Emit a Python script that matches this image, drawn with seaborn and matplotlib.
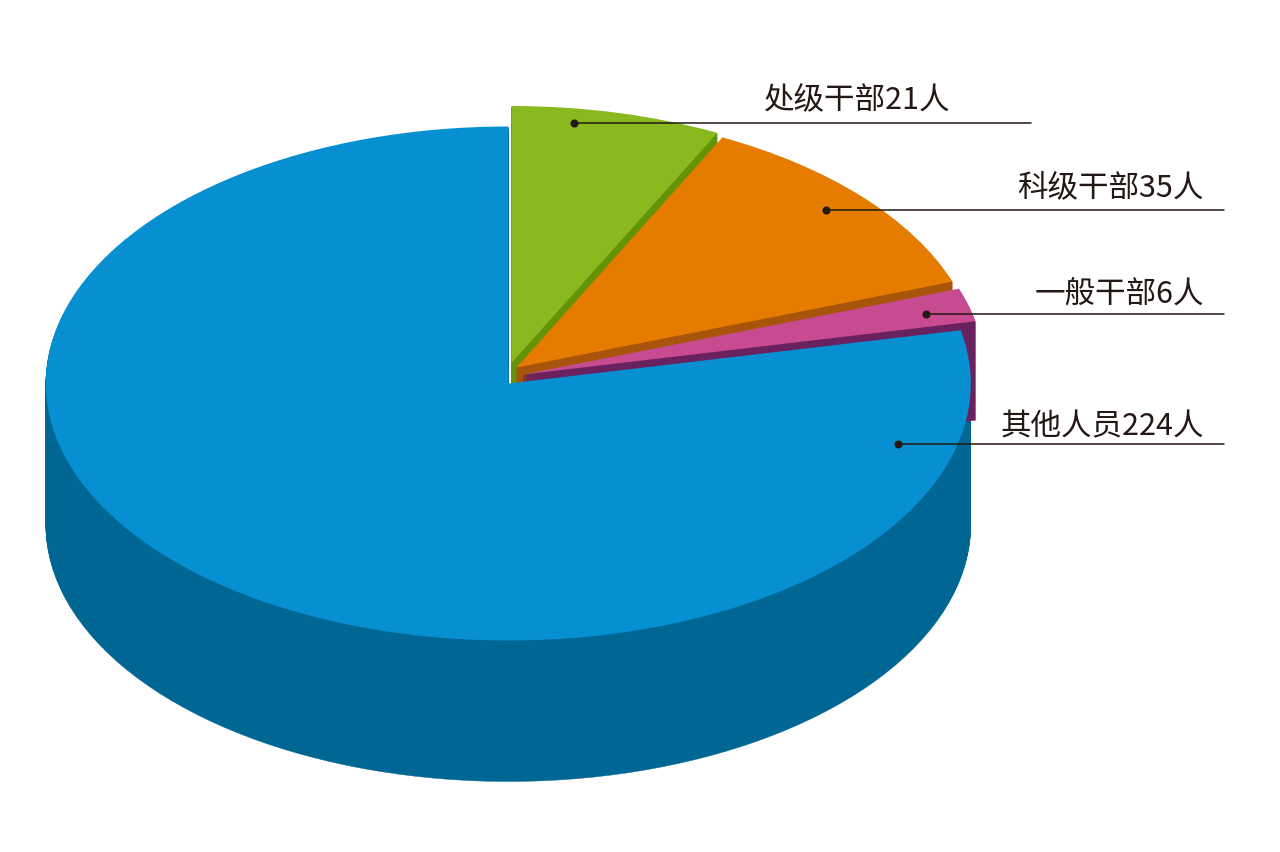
#!/usr/bin/env python3
"""Exploded pseudo-3D pie of staff counts, drawn from one flat pie squashed into an ellipse."""

import matplotlib
matplotlib.use("Agg")
import matplotlib.pyplot as plt
import pandas as pd
import seaborn as sns
from matplotlib.patches import PathPatch
from matplotlib.transforms import Affine2D

CATEGORIES = ["处级干部", "科级干部", "一般干部", "其他人员"]
COUNTS = [21, 35, 6, 224]

TOP_COLORS = ["#8ab81f", "#e57c00", "#c84a90", "#0690d2"]
SIDE_COLORS = ["#649209", "#a8550b", "#6a2160", "#006694"]
INK = "#231815"

# Pixel layout of the reference (the axes run in image pixels)
RX, RY = 462.5, 257
CENTERS = [(511.5, 364), (516.5, 368.5), (523, 375.5), (508.3, 384.5)]
DEPTHS = [30, 25, 99, 141]
DOTS_X = [574, 826, 926, 898]
DOTS_Y = [124, 211, 315, 445]
LINE_END_X = [1031, 1224, 1224, 1224]
LABEL_RIGHT_X = [950, 1204, 1204, 1204]
LABEL_Y = [100, 188, 295, 427]

sns.set_theme(style="white")
plt.rcParams["font.family"] = ["Noto Sans CJK SC", "DejaVu Sans"]

fig, ax = plt.subplots(figsize=(12.8, 8.53), dpi=100)
fig.subplots_adjust(0, 0, 1, 1)
wedges, _ = ax.pie(COUNTS, startangle=90, counterclock=False, colors=TOP_COLORS)


def squash(cx, cy):
    return Affine2D().scale(RX, -RY).translate(cx, cy) + ax.transData


def extrude(wedge, cx, cy, depth, color, zorder):
    # the side wall is the slice outline repeated downwards, one pixel per copy
    for step in range(depth, 0, -1):
        ax.add_patch(PathPatch(wedge.get_path(), facecolor=color, edgecolor=color, lw=0.3,
                               transform=squash(cx, cy + step), zorder=zorder))


# The big slice wall goes first and its top goes last, it hides the others' walls
extrude(wedges[3], *CENTERS[3], DEPTHS[3], SIDE_COLORS[3], 1)
for i in range(3):
    z = 2 + i * 2
    extrude(wedges[i], *CENTERS[i], DEPTHS[i], SIDE_COLORS[i], z)
    wedges[i].set_transform(squash(*CENTERS[i]))
    wedges[i].set(zorder=z + 1, lw=0)
wedges[3].set_transform(squash(*CENTERS[3]))
wedges[3].set(zorder=9, lw=0)

# Leader lines, dots and labels
for i in range(4):
    ax.plot([DOTS_X[i], LINE_END_X[i]], [DOTS_Y[i], DOTS_Y[i]], color=INK, lw=1.1, zorder=10)
    ax.text(LABEL_RIGHT_X[i], LABEL_Y[i], f"{CATEGORIES[i]}{COUNTS[i]}人", ha="right", va="center",
            fontsize=22, color=INK, zorder=11)

dots = pd.DataFrame({"x": DOTS_X, "y": DOTS_Y})
sns.scatterplot(data=dots, x="x", y="y", ax=ax, color=INK, s=34, linewidth=0, zorder=12, legend=False)

ax.set_aspect("auto")
ax.set_xlim(0, 1280)
ax.set_ylim(853, 0)
ax.set_xlabel("")
ax.set_ylabel("")
ax.axis("off")

fig.savefig("out.png", dpi=100, facecolor="white")
